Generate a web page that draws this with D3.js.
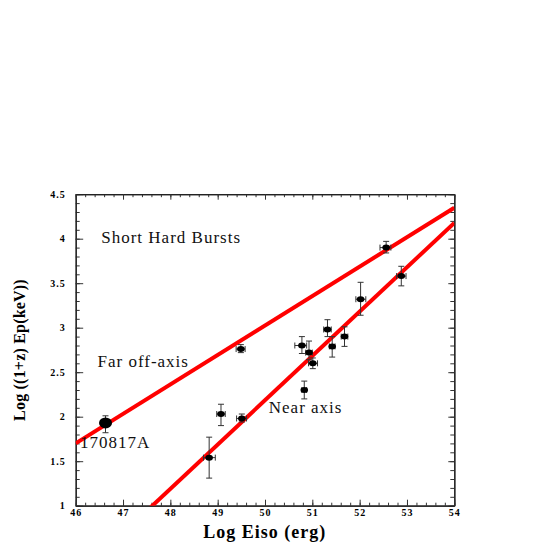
<!DOCTYPE html>
<html>
<head>
<meta charset="utf-8">
<script src="https://cdn.jsdelivr.net/npm/d3@7"></script>
<style>
  body { margin: 0; background: #fff; }
  text { font-family: "Liberation Serif", "Times New Roman", serif; }
</style>
</head>
<body>
<div id="chart"></div>
<script>
// burst values, log units
var burstNames = ["170817A", "", "", "", "", "", "", "", "", "", "", "", "", "", ""];
var logEiso   = [46.63, 48.82, 49.07, 49.51, 49.49, 50.78, 50.93, 50.83, 51.01, 51.32, 51.42, 51.68, 52.02, 52.56, 52.88];
var logEp     = [1.93, 1.54, 2.03, 1.98, 2.76, 2.80, 2.72, 2.30, 2.60, 2.98, 2.79, 2.90, 3.32, 3.90, 3.58];
var epLow     = [1.82, 1.31, 1.90, 1.94, 2.72, 2.71, 2.64, 2.20, 2.54, 2.90, 2.67, 2.79, 3.14, 3.84, 3.47];
var epHigh    = [2.01, 1.77, 2.14, 2.03, 2.81, 2.90, 2.85, 2.40, 2.66, 3.09, 2.90, 3.01, 3.51, 3.97, 3.69];
var eisoLow   = [46.63, 48.70, 48.98, 49.40, 49.39, 50.63, 50.86, 50.78, 50.92, 51.24, 51.36, 51.61, 51.92, 52.43, 52.78];
var eisoHigh  = [46.63, 48.95, 49.16, 49.61, 49.58, 50.88, 51.00, 50.88, 51.11, 51.40, 51.48, 51.75, 52.13, 52.66, 52.98];

// the two red relations: logEp = intercept + slope*(logEiso - pivot)
var fitNames      = ["far", "near"];
var fitPivot      = [46, 47.62];
var fitIntercept  = [1.70, 1.0];
var fitSlope      = [0.331, 0.498];

var xTicks = [46, 47, 48, 49, 50, 51, 52, 53, 54];
var xTickLabels = ["46", "47", "48", "49", "50", "51", "52", "53", "54"];
var yTicks = [1, 1.5, 2, 2.5, 3, 3.5, 4, 4.5];
var yTickLabels = ["1", "1.5", "2", "2.5", "3", "3.5", "4", "4.5"];

var notes = ["Short Hard Bursts", "Far off-axis", "Near axis", "170817A"];
var noteX = [46.54, 46.46, 50.08, 46.09];
var noteY = [3.95, 2.56, 2.04, 1.65];

var width = 545, height = 545;
var margin = {top: 194.2, right: 90.7, bottom: 39.3, left: 75.7};
var w = width - margin.left - margin.right,
    h = height - margin.top - margin.bottom;

var svg = d3.select("#chart").append("svg")
    .attr("width", width)
    .attr("height", height);

var g = svg.append("g")
    .attr("transform", "translate(" + margin.left + "," + margin.top + ")");

var x = d3.scaleLinear().domain([46, 54]).range([0, w]),
    y = d3.scaleLinear().domain([1, 4.5]).range([h, 0]);

var xMinor = d3.range(0, 41).map(function(i){ return 46 + i * 0.2; }),
    yMinor = d3.range(0, 36).map(function(i){ return 1 + i * 0.1; });

function styleAxis(sel){
    sel.selectAll("path").attr("stroke", "#222").attr("stroke-width", 1.2);
    sel.selectAll("line").attr("stroke", "#333");
}

// minor ticks on all four sides
g.append("g").call(d3.axisLeft(y).tickValues(yMinor).tickSize(-4).tickSizeOuter(0).tickFormat("")).call(styleAxis);
g.append("g").attr("transform", "translate(" + w + ",0)")
    .call(d3.axisRight(y).tickValues(yMinor).tickSize(-4).tickSizeOuter(0).tickFormat("")).call(styleAxis);
g.append("g").attr("transform", "translate(0," + h + ")")
    .call(d3.axisBottom(x).tickValues(xMinor).tickSize(-3).tickSizeOuter(0).tickFormat("")).call(styleAxis);
g.append("g")
    .call(d3.axisTop(x).tickValues(xMinor).tickSize(-3).tickSizeOuter(0).tickFormat("")).call(styleAxis);

// major ticks + labels
var yAxis = g.append("g")
    .call(d3.axisLeft(y).tickValues(yTicks).tickSize(-7.5).tickSizeOuter(0).tickPadding(10)
        .tickFormat(function(d, i){ return yTickLabels[i]; }))
    .call(styleAxis);
g.append("g").attr("transform", "translate(" + w + ",0)")
    .call(d3.axisRight(y).tickValues(yTicks).tickSize(-6).tickSizeOuter(0).tickFormat("")).call(styleAxis);
var xAxis = g.append("g").attr("transform", "translate(0," + h + ")")
    .call(d3.axisBottom(x).tickValues(xTicks).tickSize(-6).tickSizeOuter(0).tickPadding(3)
        .tickFormat(function(d, i){ return xTickLabels[i]; }))
    .call(styleAxis);
g.append("g")
    .call(d3.axisTop(x).tickValues(xTicks).tickSize(-5.5).tickSizeOuter(0).tickFormat("")).call(styleAxis);

[xAxis, yAxis].forEach(function(a){
    a.selectAll("text")
        .attr("fill", "#000")
        .style("font-family", "'Liberation Serif', serif")
        .style("font-weight", "bold")
        .style("font-size", "10px")
        .style("letter-spacing", "1px");
});

// fit lines, clipped to frame
svg.append("clipPath").attr("id", "frame")
    .append("rect").attr("width", w).attr("height", h);

var fitLine = d3.line()
    .x(function(d){ return x(d[0]); })
    .y(function(d){ return y(d[1]); });

g.append("g").attr("clip-path", "url(#frame)")
    .selectAll("path.fit")
    .data(fitNames)
    .enter().append("path")
        .attr("class", "fit")
        .attr("fill", "none")
        .attr("stroke", "#ff0000")
        .attr("stroke-width", 4)
        .attr("d", function(d, i){
            var ends = x.domain().map(function(e){
                return [e, fitIntercept[i] + fitSlope[i] * (e - fitPivot[i])];
            });
            return fitLine(ends);
        });

// error bars
var cap = 3;
var bars = g.append("g").attr("stroke", "#333").attr("stroke-width", 1);
logEiso.forEach(function(e, i){
    var cx = x(e), cy = y(logEp[i]);
    bars.append("line").attr("x1", cx).attr("x2", cx).attr("y1", y(epLow[i])).attr("y2", y(epHigh[i]));
    bars.append("line").attr("x1", cx - cap).attr("x2", cx + cap).attr("y1", y(epLow[i])).attr("y2", y(epLow[i]));
    bars.append("line").attr("x1", cx - cap).attr("x2", cx + cap).attr("y1", y(epHigh[i])).attr("y2", y(epHigh[i]));
    if (eisoHigh[i] > eisoLow[i]) {
        bars.append("line").attr("x1", x(eisoLow[i])).attr("x2", x(eisoHigh[i])).attr("y1", cy).attr("y2", cy);
        bars.append("line").attr("x1", x(eisoLow[i])).attr("x2", x(eisoLow[i])).attr("y1", cy - cap).attr("y2", cy + cap);
        bars.append("line").attr("x1", x(eisoHigh[i])).attr("x2", x(eisoHigh[i])).attr("y1", cy - cap).attr("y2", cy + cap);
    }
});

// points
g.selectAll("ellipse.pt")
    .data(logEiso)
    .enter().append("ellipse")
        .attr("class", "pt")
        .attr("cx", function(d){ return x(d); })
        .attr("cy", function(d, i){ return y(logEp[i]); })
        .attr("rx", function(d, i){ return burstNames[i] ? 6.5 : 3.8; })
        .attr("ry", function(d, i){ return burstNames[i] ? 5.5 : 3; })
        .attr("fill", "#000");

// annotations
g.selectAll("text.note")
    .data(notes)
    .enter().append("text")
        .attr("class", "note")
        .attr("x", function(d, i){ return x(noteX[i]); })
        .attr("y", function(d, i){ return y(noteY[i]); })
        .style("font-size", "17px")
        .style("letter-spacing", "1px")
        .attr("fill", "#111")
        .text(function(d){ return d; });

// axis titles
svg.append("text")
    .attr("x", margin.left + w / 2 - 0.3)
    .attr("y", 538)
    .attr("text-anchor", "middle")
    .style("font-size", "18px")
    .style("font-weight", "bold")
    .style("letter-spacing", "1px")
    .text("Log Eiso (erg)");

svg.append("text")
    .attr("transform", "translate(25,350) rotate(-90)")
    .attr("text-anchor", "middle")
    .style("font-size", "16px")
    .style("font-weight", "bold")
    .style("letter-spacing", "0.2px")
    .text("Log ((1+z) Ep(keV))");
</script>
</body>
</html>
